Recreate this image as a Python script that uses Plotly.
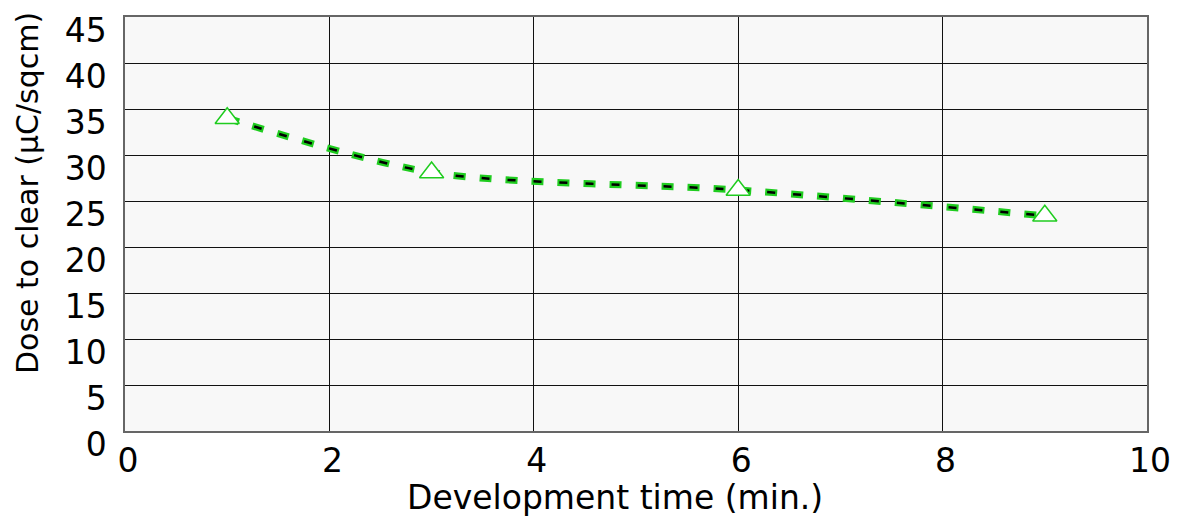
import plotly.graph_objects as go

dev_time = [1, 3, 6, 9]
dose = [34.0, 28.1, 26.2, 23.4]

x_ticks = [0, 2, 4, 6, 8, 10]
y_ticks = [0, 5, 10, 15, 20, 25, 30, 35, 40, 45]

x_title = "Development time (min.)"
y_title = "Dose to clear (µC/sqcm)"

FONT = "DejaVu Sans"
GREEN = "#1fcc1f"

fig = go.Figure()
fig.add_trace(go.Scatter(
    x=dev_time, y=dose, mode="lines",
    line=dict(color=GREEN, width=7, dash="12px,14px", shape="spline", smoothing=0.8),
    hoverinfo="skip", showlegend=False))
fig.add_trace(go.Scatter(
    x=dev_time, y=dose, mode="lines",
    line=dict(color="black", width=2.5, dash="0px,2px,8px,16px", shape="spline", smoothing=0.8),
    hoverinfo="skip", showlegend=False))
fig.add_trace(go.Scatter(
    x=dev_time, y=dose, mode="markers",
    marker=dict(symbol="triangle-up", size=21, color="white",
                line=dict(color=GREEN, width=1.5)),
    showlegend=False))

fig.update_layout(
    width=1182, height=526,
    margin=dict(l=125, r=35, t=17, b=95),
    paper_bgcolor="white", plot_bgcolor="#f8f8f8",
    font=dict(family=FONT, color="black"),
)
fig.update_xaxes(
    range=[0, 10], tickvals=x_ticks, ticktext=[str(v) for v in x_ticks],
    showgrid=True, gridcolor="#111111", gridwidth=1,
    showline=True, linecolor="#666666", linewidth=1.5, mirror=True,
    zeroline=False, ticks="", tickfont=dict(size=33, family=FONT),
    ticklabelshift=3,
)
fig.update_yaxes(
    range=[0, 45], tickvals=y_ticks, ticktext=[str(v) for v in y_ticks],
    showgrid=True, gridcolor="#111111", gridwidth=1,
    showline=True, linecolor="#666666", linewidth=1.5, mirror=True,
    zeroline=False, ticks="", tickfont=dict(size=33, family=FONT),
    ticklabelshift=13, ticklabelstandoff=10,
)
fig.add_annotation(text=x_title, xref="paper", yref="paper",
                   x=(615 - 125) / 1022, y=(431 - 497) / 414,
                   xanchor="center", yanchor="middle", showarrow=False,
                   font=dict(size=33, family=FONT, color="black"))
fig.add_annotation(text=y_title, xref="paper", yref="paper",
                   x=(27 - 125) / 1022, y=(431 - 193) / 414,
                   xanchor="center", yanchor="middle", showarrow=False, textangle=-90,
                   font=dict(size=30, family=FONT, color="black"))

fig.write_html("out.html")
